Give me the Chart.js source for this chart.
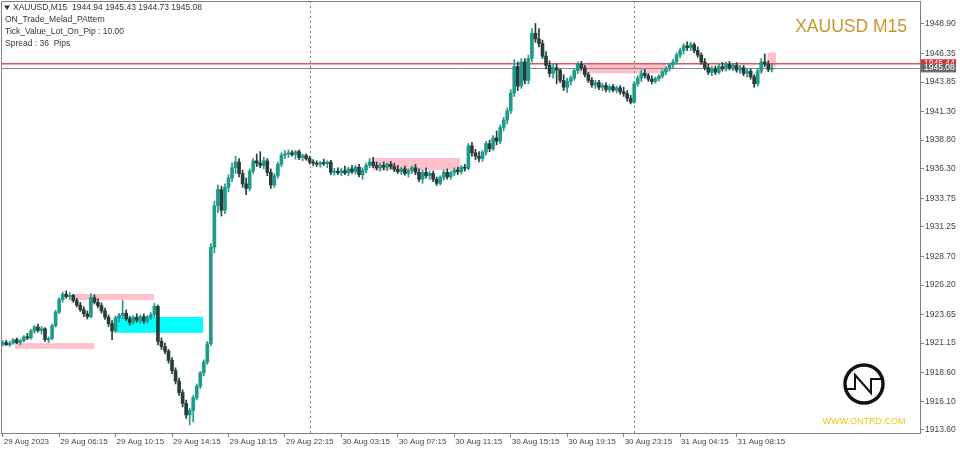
<!DOCTYPE html>
<html>
<head>
<meta charset="utf-8">
<script src="https://cdn.jsdelivr.net/npm/chart.js@4.4.0/dist/chart.umd.min.js"></script>
<style>
html, body { margin: 0; padding: 0; background: #fff; }
#wrap { width: 960px; height: 452px; }
</style>
</head>
<body>
<div id="wrap"><canvas id="chart" width="960" height="452"></canvas></div>
<script>
// time labels, one every 16 bars (4 hours of M15)
const tickLabels = ['29 Aug 2023', '29 Aug 06:15', '29 Aug 10:15', '29 Aug 14:15', '29 Aug 18:15', '29 Aug 22:15',
    '30 Aug 03:15', '30 Aug 07:15', '30 Aug 11:15', '30 Aug 15:15', '30 Aug 19:15', '30 Aug 23:15',
    '31 Aug 04:15', '31 Aug 08:15'];
const barsPerLabel = 16;

const priceTicks = [1948.90, 1946.35, 1943.85, 1941.30, 1938.80, 1936.30, 1933.75, 1931.25,
    1928.70, 1926.20, 1923.65, 1921.15, 1918.60, 1916.10, 1913.60];

const opens = [
    1921.05,1921.20,1921.00,1921.15,1921.45,1921.20,1921.35,1921.70,1921.60,1922.20,
    1922.55,1922.25,1922.40,1921.45,1921.55,1922.65,1923.85,1924.95,1925.40,1925.20,
    1925.30,1924.85,1924.45,1924.05,1923.70,1923.45,1925.10,1924.70,1924.40,1923.95,
    1923.40,1922.85,1922.20,1923.35,1923.55,1923.75,1923.25,1922.95,1923.40,1923.15,
    1923.45,1923.05,1923.45,1923.60,1924.35,1921.30,1920.85,1920.45,1919.65,1918.75,
    1917.85,1916.85,1915.90,1914.90,1915.30,1916.40,1917.40,1918.55,1919.50,1921.10,
    1929.50,1933.10,1934.50,1932.70,1934.70,1935.50,1936.40,1936.90,1935.90,1935.00,
    1934.60,1936.10,1937.00,1936.80,1936.60,1937.00,1936.00,1934.90,1935.70,1936.70,
    1937.50,1937.60,1937.70,1937.55,1937.80,1937.30,1937.45,1937.20,1936.90,1936.80,
    1936.70,1936.85,1936.75,1936.90,1936.00,1936.10,1935.95,1936.15,1935.95,1936.30,
    1936.05,1936.45,1935.80,1936.20,1936.60,1936.90,1936.60,1936.40,1936.60,1936.45,
    1936.70,1936.50,1936.25,1936.05,1936.30,1935.90,1936.15,1936.40,1936.00,1935.40,
    1936.00,1935.70,1935.90,1935.40,1935.05,1935.55,1936.00,1935.60,1935.95,1936.20,
    1936.05,1936.45,1936.35,1938.30,1937.70,1937.40,1937.20,1937.75,1938.50,1938.05,
    1939.00,1938.70,1939.90,1940.55,1941.35,1942.90,1945.20,1943.50,1945.60,1944.00,
    1945.90,1948.10,1947.60,1947.20,1946.10,1945.30,1944.60,1945.10,1944.90,1944.00,
    1943.40,1943.90,1944.20,1944.85,1945.40,1945.10,1944.50,1944.00,1943.60,1943.80,
    1943.40,1943.55,1943.20,1943.45,1943.15,1943.35,1943.00,1942.85,1942.45,1942.10,
    1943.70,1944.20,1944.60,1944.40,1944.10,1943.90,1944.15,1944.35,1944.75,1945.00,
    1945.35,1945.60,1946.20,1946.60,1947.00,1946.85,1947.10,1946.60,1946.20,1945.60,
    1945.10,1944.70,1945.00,1944.70,1945.20,1945.00,1945.40,1945.10,1945.30,1944.90,
    1945.10,1944.60,1944.80,1944.30,1943.70,1944.80,1945.60,1945.40,1944.94
];
const highs = [
    1921.35,1921.40,1921.30,1921.55,1921.60,1921.50,1921.80,1922.00,1922.35,1922.70,
    1922.80,1922.60,1922.50,1921.70,1922.80,1924.00,1925.10,1925.60,1925.70,1925.55,
    1925.40,1925.05,1924.70,1924.30,1923.95,1925.45,1925.35,1925.00,1924.65,1924.20,
    1923.60,1923.10,1923.50,1923.75,1924.85,1924.05,1923.50,1923.55,1923.70,1923.60,
    1923.70,1923.55,1923.80,1924.60,1924.45,1921.60,1921.15,1920.60,1919.90,1919.00,
    1918.10,1917.10,1916.20,1915.50,1916.60,1917.60,1918.70,1919.70,1921.30,1929.80,
    1933.50,1934.90,1934.80,1935.00,1935.80,1936.80,1937.40,1937.20,1936.20,1935.50,
    1936.30,1937.20,1937.60,1937.80,1937.30,1937.20,1936.30,1935.90,1936.90,1937.70,
    1937.90,1937.95,1937.90,1937.90,1937.95,1937.60,1937.60,1937.40,1937.10,1937.00,
    1936.95,1937.15,1937.00,1937.05,1936.35,1936.40,1936.35,1936.55,1936.45,1936.60,
    1936.60,1936.70,1936.40,1936.80,1937.20,1937.30,1936.90,1936.80,1936.90,1936.80,
    1936.95,1936.80,1936.60,1936.45,1936.55,1936.30,1936.55,1936.70,1936.30,1936.20,
    1936.40,1936.10,1936.10,1935.60,1935.70,1936.20,1936.30,1936.10,1936.40,1936.45,
    1936.60,1936.70,1938.50,1938.60,1938.00,1937.80,1937.90,1938.70,1938.80,1939.20,
    1939.60,1940.10,1940.80,1941.60,1943.20,1945.80,1945.60,1945.90,1945.90,1946.20,
    1948.50,1948.95,1948.50,1947.50,1946.50,1945.70,1945.40,1945.45,1945.00,1944.50,
    1944.20,1944.40,1945.00,1945.60,1945.65,1945.30,1944.70,1944.25,1944.00,1944.00,
    1943.75,1943.80,1943.60,1943.65,1943.50,1943.55,1943.40,1943.10,1942.70,1943.90,
    1944.40,1944.90,1944.95,1944.60,1944.40,1944.30,1944.50,1944.90,1945.20,1945.50,
    1945.80,1946.40,1946.80,1947.20,1947.35,1947.30,1947.25,1946.90,1946.40,1945.90,
    1945.40,1945.20,1945.25,1945.40,1945.55,1945.60,1945.65,1945.50,1945.55,1945.30,
    1945.30,1945.00,1945.00,1944.50,1945.00,1945.90,1946.30,1945.70,1945.43
];
const lows = [
    1920.90,1920.95,1920.85,1921.05,1921.10,1921.00,1921.25,1921.45,1921.50,1922.00,
    1922.10,1921.95,1921.30,1921.20,1921.45,1922.55,1923.70,1924.70,1925.05,1924.95,
    1924.70,1924.30,1923.90,1923.45,1923.25,1923.35,1924.55,1924.20,1923.75,1923.20,
    1922.60,1921.45,1922.05,1923.00,1923.30,1923.10,1922.70,1922.80,1922.95,1922.85,
    1922.85,1922.90,1923.20,1923.40,1921.00,1920.60,1920.20,1919.40,1918.50,1917.60,
    1916.60,1915.60,1914.60,1914.05,1914.30,1916.20,1917.20,1918.30,1919.30,1920.90,
    1929.00,1932.50,1932.20,1932.40,1934.30,1935.20,1935.90,1935.60,1934.70,1934.05,
    1934.40,1935.90,1936.50,1936.40,1936.30,1935.70,1934.60,1934.70,1935.50,1936.50,
    1937.20,1937.30,1937.40,1937.15,1937.10,1937.00,1937.05,1936.70,1936.60,1936.50,
    1936.45,1936.60,1936.40,1935.80,1935.75,1935.80,1935.70,1935.80,1935.70,1935.90,
    1935.85,1935.60,1935.40,1935.95,1936.40,1936.40,1936.20,1936.10,1936.20,1936.15,
    1936.30,1936.05,1935.90,1935.80,1935.75,1935.60,1935.90,1935.80,1935.20,1935.05,
    1935.50,1935.40,1935.20,1934.85,1934.90,1935.30,1935.40,1935.40,1935.70,1935.80,
    1935.85,1936.10,1936.20,1937.40,1937.10,1936.90,1936.95,1937.50,1937.80,1937.90,
    1938.40,1938.50,1939.60,1940.20,1941.10,1942.60,1943.10,1943.30,1943.70,1943.70,
    1945.60,1947.30,1946.90,1945.90,1945.00,1944.30,1944.20,1943.70,1943.80,1943.10,
    1942.95,1943.60,1944.00,1944.60,1944.90,1944.30,1943.80,1943.40,1943.30,1943.20,
    1943.10,1943.00,1942.95,1943.00,1942.90,1942.80,1942.60,1942.20,1941.95,1942.00,
    1943.50,1943.90,1944.20,1943.90,1943.70,1943.75,1943.95,1944.20,1944.50,1944.80,
    1945.10,1945.40,1945.95,1946.30,1946.60,1946.60,1946.40,1946.00,1945.40,1944.90,
    1944.50,1944.40,1944.50,1944.55,1944.80,1944.80,1944.90,1944.85,1944.70,1944.60,
    1944.40,1944.30,1944.10,1943.40,1943.50,1944.60,1945.20,1944.75,1944.73
];
const closes = [
    1921.20,1921.00,1921.15,1921.45,1921.20,1921.35,1921.70,1921.60,1922.20,1922.55,
    1922.25,1922.40,1921.45,1921.55,1922.65,1923.85,1924.95,1925.40,1925.20,1925.30,
    1924.85,1924.45,1924.05,1923.70,1923.45,1925.10,1924.70,1924.40,1923.95,1923.40,
    1922.85,1922.20,1923.35,1923.55,1923.75,1923.25,1922.95,1923.40,1923.15,1923.45,
    1923.05,1923.45,1923.60,1924.35,1921.30,1920.85,1920.45,1919.65,1918.75,1917.85,
    1916.85,1915.90,1914.90,1915.30,1916.40,1917.40,1918.55,1919.50,1921.10,1929.50,
    1933.10,1934.50,1932.70,1934.70,1935.50,1936.40,1936.90,1935.90,1935.00,1934.60,
    1936.10,1937.00,1936.80,1936.60,1937.00,1936.00,1934.90,1935.70,1936.70,1937.50,
    1937.60,1937.70,1937.55,1937.80,1937.30,1937.45,1937.20,1936.90,1936.80,1936.70,
    1936.85,1936.75,1936.90,1936.00,1936.10,1935.95,1936.15,1935.95,1936.30,1936.05,
    1936.45,1935.80,1936.20,1936.60,1936.90,1936.60,1936.40,1936.60,1936.45,1936.70,
    1936.50,1936.25,1936.05,1936.30,1935.90,1936.15,1936.40,1936.00,1935.40,1936.00,
    1935.70,1935.90,1935.40,1935.05,1935.55,1936.00,1935.60,1935.95,1936.20,1936.05,
    1936.45,1936.35,1938.30,1937.70,1937.40,1937.20,1937.75,1938.50,1938.05,1939.00,
    1938.70,1939.90,1940.55,1941.35,1942.90,1945.20,1943.50,1945.60,1944.00,1945.90,
    1948.10,1947.60,1947.20,1946.10,1945.30,1944.60,1945.10,1944.90,1944.00,1943.40,
    1943.90,1944.20,1944.85,1945.40,1945.10,1944.50,1944.00,1943.60,1943.80,1943.40,
    1943.55,1943.20,1943.45,1943.15,1943.35,1943.00,1942.85,1942.45,1942.10,1943.70,
    1944.20,1944.60,1944.40,1944.10,1943.90,1944.15,1944.35,1944.75,1945.00,1945.35,
    1945.60,1946.20,1946.60,1947.00,1946.85,1947.10,1946.60,1946.20,1945.60,1945.10,
    1944.70,1945.00,1944.70,1945.20,1945.00,1945.40,1945.10,1945.30,1944.90,1945.10,
    1944.60,1944.80,1944.30,1943.70,1944.80,1945.60,1945.40,1944.95,1945.08
];

// pattern zones: bar range and price range
const zoneFrom = [3.5, 19.6, 32.4, 104.7, 163.5, 216.8];
const zoneTo = [25.9, 42.9, 56.8, 129.6, 188.0, 219.2];
const zoneLow = [1920.65, 1924.90, 1922.05, 1936.20, 1944.60, 1945.20];
const zoneHigh = [1921.15, 1925.42, 1923.42, 1937.25, 1945.50, 1946.40];
const zoneKind = ['sell', 'sell', 'buy', 'sell', 'sell', 'sell'];

const separatorBars = [87, 179];   // day breaks
const askPrice = 1945.44;
const bidPrice = 1945.08;

const infoLines = ['XAUUSD,M15  1944.94 1945.43 1944.73 1945.08', 'ON_Trade_Melad_PAttern',
    'Tick_Value_Lot_On_Pip : 10.00', 'Spread : 36  Pips'];

const BULL = '#1f9a8b';
const BEAR = '#263d3a';
const FONT = '"Liberation Sans", Arial, sans-serif';

const candleColors = closes.map((c, i) => c >= opens[i] ? BULL : BEAR);

const overlay = {
    id: 'overlay',
    beforeDatasetsDraw(chart) {
        const { ctx, chartArea: a, scales: { x, y } } = chart;
        ctx.save();
        ctx.beginPath();
        ctx.rect(a.left, a.top, a.right - a.left, a.bottom - a.top);
        ctx.clip();
        // zones
        zoneFrom.forEach((f, k) => {
            const x0 = x.getPixelForValue(f), x1 = x.getPixelForValue(zoneTo[k]);
            const y0 = y.getPixelForValue(zoneHigh[k]), y1 = y.getPixelForValue(zoneLow[k]);
            ctx.fillStyle = zoneKind[k] === 'buy' ? '#00ffff' : '#ffc0cb';
            ctx.fillRect(x0, y0, x1 - x0, y1 - y0);
        });
        // day separators
        ctx.strokeStyle = '#808080';
        ctx.lineWidth = 1;
        ctx.setLineDash([2, 3]);
        separatorBars.forEach(b => {
            const px = Math.round(x.getPixelForValue(b)) + 0.5;
            ctx.beginPath();
            ctx.moveTo(px, a.top);
            ctx.lineTo(px, a.bottom);
            ctx.stroke();
        });
        ctx.setLineDash([]);
        // ask / bid lines
        const ya = y.getPixelForValue(askPrice), yb = y.getPixelForValue(bidPrice);
        ctx.strokeStyle = '#e0575b';
        ctx.lineWidth = 1.5;
        ctx.beginPath(); ctx.moveTo(a.left, ya); ctx.lineTo(a.right, ya); ctx.stroke();
        ctx.strokeStyle = '#7f8a8a';
        ctx.lineWidth = 1;
        ctx.beginPath(); ctx.moveTo(a.left, Math.round(yb) + 0.5); ctx.lineTo(a.right, Math.round(yb) + 0.5); ctx.stroke();
        ctx.restore();
        // frame left / top
        ctx.save();
        ctx.strokeStyle = '#808080';
        ctx.lineWidth = 1;
        ctx.beginPath();
        ctx.moveTo(a.left + 0.5, a.bottom);
        ctx.lineTo(a.left + 0.5, a.top + 0.5);
        ctx.lineTo(a.right, a.top + 0.5);
        ctx.stroke();
        ctx.restore();
    },
    afterDraw(chart) {
        const { ctx, chartArea: a, scales: { y } } = chart;
        ctx.save();
        // info block
        ctx.fillStyle = '#333';
        ctx.font = '8.5px ' + FONT;
        ctx.textBaseline = 'middle';
        ctx.textAlign = 'left';
        ctx.beginPath();
        ctx.moveTo(4, 5.5); ctx.lineTo(10, 5.5); ctx.lineTo(7, 10); ctx.closePath();
        ctx.fill();
        infoLines.forEach((t, k) => {
            ctx.fillText(t, k === 0 ? 13 : 5, 8 + k * 12);
        });
        // symbol title
        ctx.fillStyle = '#c8962a';
        ctx.font = '17.5px ' + FONT;
        ctx.textAlign = 'right';
        ctx.textBaseline = 'alphabetic';
        ctx.fillText('XAUUSD M15', 907, 32);
        // ask / bid boxes on the price axis
        const ya = y.getPixelForValue(askPrice), yb = y.getPixelForValue(bidPrice);
        ctx.font = '8.5px ' + FONT;
        ctx.textAlign = 'left';
        ctx.textBaseline = 'middle';
        ctx.fillStyle = '#e8262a';
        ctx.fillRect(a.right + 1, ya - 4.5, 35, 9);
        ctx.fillStyle = '#fff';
        ctx.fillText(askPrice.toFixed(2), a.right + 4, ya);
        ctx.fillStyle = '#6b6b6b';
        ctx.fillRect(a.right + 1, yb - 4.5, 35, 9);
        ctx.fillStyle = '#fff';
        ctx.fillText(bidPrice.toFixed(2), a.right + 4, yb);
        // logo
        const cx = 864, cy = 384;
        ctx.strokeStyle = '#111';
        ctx.lineWidth = 3.5;
        ctx.beginPath(); ctx.arc(cx, cy, 19, 0, Math.PI * 2); ctx.stroke();
        ctx.lineWidth = 2;
        ctx.beginPath();
        ctx.moveTo(cx - 19, cy + 5); ctx.lineTo(cx - 9, cy + 5); ctx.lineTo(cx - 9, cy - 9);
        ctx.lineTo(cx + 7, cy + 9); ctx.lineTo(cx + 7, cy - 5); ctx.lineTo(cx + 19, cy - 5);
        ctx.stroke();
        ctx.fillStyle = '#f2c40f';
        ctx.font = '9px ' + FONT;
        ctx.textAlign = 'center';
        ctx.fillText('WWW.ONTRD.COM', cx, 422);
        ctx.restore();
    }
};

new Chart(document.getElementById('chart'), {
    type: 'bar',
    data: {
        datasets: [
            {
                label: 'wick',
                data: closes.map((c, i) => ({ x: i, y: [lows[i], highs[i]] })),
                backgroundColor: candleColors,
                barThickness: 1,
                grouped: false,
                borderWidth: 0,
                order: 2
            },
            {
                label: 'body',
                data: closes.map((c, i) => ({ x: i, y: [opens[i], c] })),
                backgroundColor: candleColors,
                barThickness: 3,
                minBarLength: 1,
                grouped: false,
                borderWidth: 0,
                order: 1
            }
        ]
    },
    options: {
        responsive: false,
        animation: false,
        layout: { padding: { left: 1, top: 1, right: 0, bottom: 0 } },
        plugins: { legend: { display: false }, tooltip: { enabled: false } },
        scales: {
            x: {
                type: 'linear',
                min: -0.48,
                max: 260.0,
                offset: false,
                grid: { drawOnChartArea: false, drawTicks: true, tickLength: 4, color: '#808080', offset: false },
                border: { display: true, color: '#808080' },
                ticks: {
                    autoSkip: false, maxRotation: 0, align: 'start', padding: 0, labelOffset: 1,
                    color: '#444', font: { family: FONT, size: 8 },
                    callback: (v, idx) => tickLabels[idx]
                },
                afterBuildTicks: s => { s.ticks = tickLabels.map((_, k) => ({ value: k * barsPerLabel })); },
                afterFit: s => { s.height = 19; s.paddingLeft = 0; s.paddingRight = 0; }
            },
            y: {
                position: 'right',
                min: 1913.334,
                max: 1950.90,
                beginAtZero: false,
                grid: { drawOnChartArea: false, drawTicks: true, tickLength: 4, color: '#808080' },
                border: { display: true, color: '#808080' },
                ticks: {
                    padding: 1, color: '#444', font: { family: FONT, size: 8.5 },
                    callback: v => Number(v).toFixed(2)
                },
                afterBuildTicks: s => { s.ticks = priceTicks.map(v => ({ value: v })); },
                afterFit: s => { s.width = 40; s.paddingTop = 0; s.paddingBottom = 0; }
            }
        }
    },
    plugins: [overlay]
});
</script>
</body>
</html>
